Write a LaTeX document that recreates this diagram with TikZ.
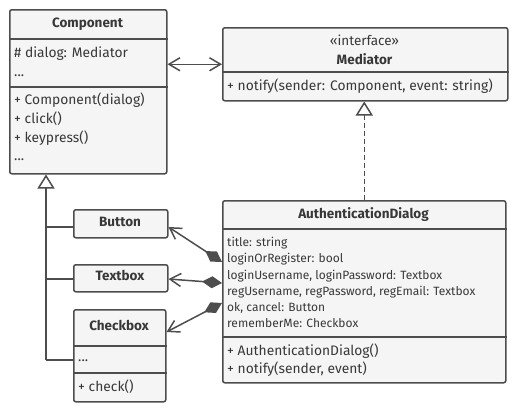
\documentclass[tikz,border=0pt]{standalone}
\usepackage{fontspec}
\setmainfont{Fira Sans}
\usetikzlibrary{arrows.meta,backgrounds}
\definecolor{linec}{HTML}{4D4D4D}
\definecolor{boxfill}{HTML}{F5F5F5}
\definecolor{txt}{HTML}{383838}
\begin{document}
\begin{tikzpicture}[x=1pt,y=-1pt,
  box/.style={draw=linec, fill=boxfill, line width=1.5pt, rounded corners=2pt, inner sep=0pt, anchor=north west},
  sep/.style={draw=linec, line width=1.5pt},
  lbl/.style={anchor=west, inner sep=0pt, text=txt, text height=9pt, text depth=3pt, font=\fontsize{13.8}{13.8}\selectfont},
  small/.style={lbl, font=\fontsize{12}{12}\selectfont},
  ttl/.style={inner sep=0pt, text=txt, text height=9pt, text depth=3pt, font=\fontsize{13.5}{13.5}\selectfont\bfseries},
  stereo/.style={inner sep=0pt, text=txt, text height=9pt, text depth=3pt, font=\fontsize{13.5}{13.5}\selectfont},
  conn/.style={draw=linec, line width=1.5pt},
  barb/.tip={Straight Barb[length=11pt,width=13pt,line width=1.5pt]},
  diam/.tip={Diamond[length=20pt,width=12pt,fill=linec]},
  tri/.tip={Triangle[open,length=14pt,width=17pt,fill=white,line width=1.5pt]},
]
\useasboundingbox (0,0) rectangle (518,410);

% Component
\node[box, minimum width=157pt, minimum height=164pt] (comp) at (9,9) {};
\draw[sep] (comp.west |- 0,39) -- (comp.east |- 0,39);
\draw[sep] (comp.west |- 0,87) -- (comp.east |- 0,87);
\node[ttl] (compT) at (87.5,24) {Component};
\node[lbl] (compA1) at (14,54) {\# dialog: Mediator};
\node[lbl] (compA2) at (14,73) {...};
\node[lbl] (compM1) at (14,101) {+ Component(dialog)};
\node[lbl] (compM2) at (14,120) {+ click()};
\node[lbl] (compM3) at (14,139) {+ keypress()};
\node[lbl] (compM4) at (14,157) {...};

% Mediator
\node[box, minimum width=285pt, minimum height=73pt] (med) at (222,27) {};
\draw[sep] (med.west |- 0,72) -- (med.east |- 0,72);
\node[stereo] (medS) at (364.5,42) {«interface»};
\node[ttl] (medT) at (364.5,61) {Mediator};
\node[lbl] (medM1) at (227,87.5) {+ notify(sender: Component, event: string)};

% AuthenticationDialog
\node[box, minimum width=283pt, minimum height=182pt] (auth) at (222,200) {};
\draw[sep] (auth.west |- 0,229) -- (auth.east |- 0,229);
\draw[sep] (auth.west |- 0,337) -- (auth.east |- 0,337);
\node[ttl] (authT) at (363.5,215) {AuthenticationDialog};
\node[small] (authA1) at (227,243) {title: string};
\node[small] (authA2) at (227,259.5) {loginOrRegister: bool};
\node[small] (authA3) at (227,276) {loginUsername, loginPassword: Textbox};
\node[small] (authA4) at (227,292) {regUsername, regPassword, regEmail: Textbox};
\node[small] (authA5) at (227,308) {ok, cancel: Button};
\node[small] (authA6) at (227,324.5) {rememberMe: Checkbox};
\node[lbl] (authM1) at (227,352) {+ AuthenticationDialog()};
\node[lbl] (authM2) at (227,370) {+ notify(sender, event)};

% Button
\node[box, minimum width=94pt, minimum height=28pt] (btn) at (73,209) {};
\node[ttl] (btnT) at (120,223) {Button};
% Textbox
\node[box, minimum width=94pt, minimum height=27pt] (tbx) at (73,264) {};
\node[ttl] (tbxT) at (120,277.5) {Textbox};
% Checkbox
\node[box, minimum width=92pt, minimum height=92pt] (chk) at (73,309) {};
\draw[sep] (chk.west |- 0,346) -- (chk.east |- 0,346);
\draw[sep] (chk.west |- 0,373) -- (chk.east |- 0,373);
\node[ttl] (chkT) at (119,327.5) {Checkbox};
\node[lbl] (chkA1) at (78,358) {...};
\node[lbl] (chkM1) at (78,388) {+ check()};

\coordinate (trunk) at (46,360);

\begin{pgfonlayer}{background}
% association Component <-> Mediator
\draw[conn, barb-barb] (comp.east |- med.west) -- (med.west);
% realization
\draw[conn, dash pattern=on 5pt off 3pt, -tri] (auth.north) -- (auth.north |- med.south);
% inheritance
\draw[conn, -tri] (trunk) -- (trunk |- comp.south);
\draw[conn] (trunk |- 0,227) -- (btn.west |- 0,227);
\draw[conn] (trunk |- 0,279) -- (tbx.west |- 0,279);
\draw[conn] (trunk) -- (chk.west |- trunk);
% composition
\draw[conn, diam-barb] (auth.west |- 0,262) -- (btn.east |- 0,227);
\draw[conn, diam-barb] (auth.west |- 0,283) -- (tbx.east |- 0,279);
\draw[conn, diam-barb] (auth.west |- 0,303) -- (chk.east |- 0,332);
\end{pgfonlayer}
\end{tikzpicture}
\end{document}
